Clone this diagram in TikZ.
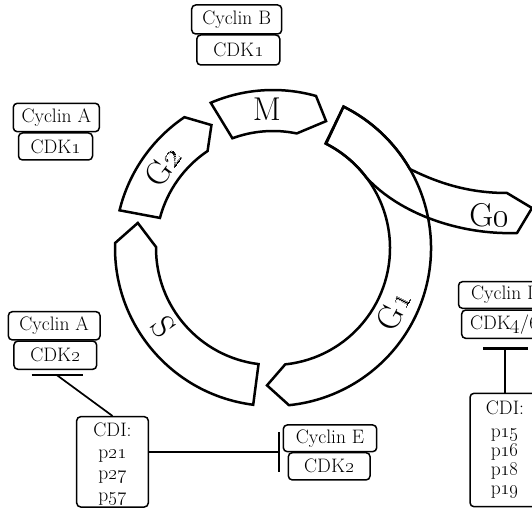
\documentclass[tikz,border=0pt]{standalone}
\usepackage{fix-cm}
\newcommand{\os}[1]{\oldstylenums{#1}}
\tikzset{
  ring/.style={draw, line width=2.5pt, line join=miter},
  lbl/.style={font=\fontsize{33}{33}\selectfont, inner sep=0pt},
  box/.style={draw, line width=1.5pt, rounded corners=4pt, inner sep=0pt,
    font=\fontsize{19.5}{22}\selectfont},
  tbar/.style={line width=2.4pt},
  conn/.style={line width=1.7pt},
}
\begin{document}
\begin{tikzpicture}[x=1pt,y=1pt]
\useasboundingbox (0,0) rectangle (532,509);
\clip (0,0) rectangle (532,509);
% ---------------- ring segments ----------------
\begin{scope}[shift={(273,261)}]
  % G1
  \draw[ring] (63.5:158) arc[start angle=63.5,end angle=-84.2,radius=158]
    -- (-92.5:137.5) -- (-84:117) arc[start angle=-84,end angle=63,radius=117] -- cycle;
  % S
  \draw[ring] (262.8:158) arc[start angle=262.8,end angle=178.2,radius=158]
    -- (169.5:137.5) -- (179.5:117) arc[start angle=179.5,end angle=262.9,radius=117] -- cycle;
  % G2
  \draw[ring] (166.2:158) arc[start angle=166.2,end angle=124.1,radius=158]
    -- (116.6:137.5) -- (124:117) arc[start angle=124,end angle=165.1,radius=117] -- cycle;
  % M
  \draw[ring] (113.2:158) arc[start angle=113.2,end angle=74.2,radius=158]
    -- (67.3:137.5) -- (78.3:117) arc[start angle=78.3,end angle=110.3,radius=117] -- cycle;
  % labels
  \node[lbl] (lM) at (92.5:139) {M};
  \node[lbl, rotate=62.7] (lG1) at (-27.3:136) {G\os{1}};
  \node[lbl, rotate=53.6] (lG2) at (143.6:137) {G\os{2}};
  \node[lbl, rotate=-54.3] (lS) at (215.7:135) {S};
\end{scope}
% G0 branch
\draw[ring] (343.5,402.4) arc[start angle=63.5,end angle=30,radius=158]
  .. controls (440,325) and (470,316) .. (507,316) -- (532,301) -- (517,276)
  .. controls (460,274) and (400,295) .. (366.4,331.4)
  arc[start angle=37,end angle=63.3,radius=117] -- cycle;
\node[lbl] (lG0) at (489,294) {G\os{0}};
% ---------------- boxes ----------------
\node[box, minimum width=90pt, minimum height=29pt] (cyB) at (236.7,489.5) {Cyclin B};
\node[box, minimum width=83pt, minimum height=30pt] (cdkB) at (238.3,459) {CDK\os{1}};
\node[box, minimum width=86pt, minimum height=28.4pt] (cyA1) at (56.3,391.5) {Cyclin A};
\node[box, minimum width=74pt, minimum height=27pt] (cdkA1) at (55.5,362.5) {CDK\os{1}};
\node[box, minimum width=91.7pt, minimum height=28.3pt] (cyA2) at (54.2,183.2) {Cyclin A};
\node[box, minimum width=82.7pt, minimum height=28.3pt] (cdkA2) at (55.3,153.8) {CDK\os{2}};
\node[box, minimum width=93.4pt, minimum height=26.7pt] (cyE) at (330,70.7) {Cyclin E};
\node[box, minimum width=81.7pt, minimum height=27.3pt] (cdkE) at (329.2,42.7) {CDK\os{2}};
\node[box, minimum width=95pt, minimum height=26.7pt] (cyD) at (506,214) {Cyclin D};
\node[box, minimum width=85pt, minimum height=28.3pt] (cdkD) at (504.2,184.8) {CDK\os{4}/\os{6}};
\node[box, minimum width=71.6pt, minimum height=90.3pt, align=center,
  font=\fontsize{19.5}{21.7}\selectfont] (cdiL) at (112.5,47.15)
  {\rule{0pt}{18pt}CDI:\\p\os{21}\\p\os{27}\\p\os{57}};
\node[box, minimum width=70pt, minimum height=113.4pt, align=center,
  font=\fontsize{19.5}{19}\selectfont] (cdiR) at (505,59)
  {CDI:\\[4pt]p\os{15}\\p\os{16}\\p\os{18}\\p\os{19}};
% ---------------- inhibition connectors ----------------
\coordinate (barAl) at (31.7,134);
\coordinate (barAr) at (83.3,134);
\coordinate (barAm) at (56.7,134);
\draw[tbar] (barAl) -- (barAr);
\draw[conn] (barAm) -- (cdiL.north);
\coordinate (barEt) at (279,77);
\coordinate (barEb) at (279,37);
\coordinate (barEm) at (279,57.3);
\draw[tbar] (barEt) -- (barEb);
\draw[conn] (cdiL.east |- barEm) -- (barEm);
\coordinate (barDl) at (483.3,160.7);
\coordinate (barDr) at (528.3,160.7);
\coordinate (barDm) at (505,160.7);
\draw[tbar] (barDl) -- (barDr);
\draw[conn] (barDm) -- (cdiR.north);
\end{tikzpicture}
\end{document}
